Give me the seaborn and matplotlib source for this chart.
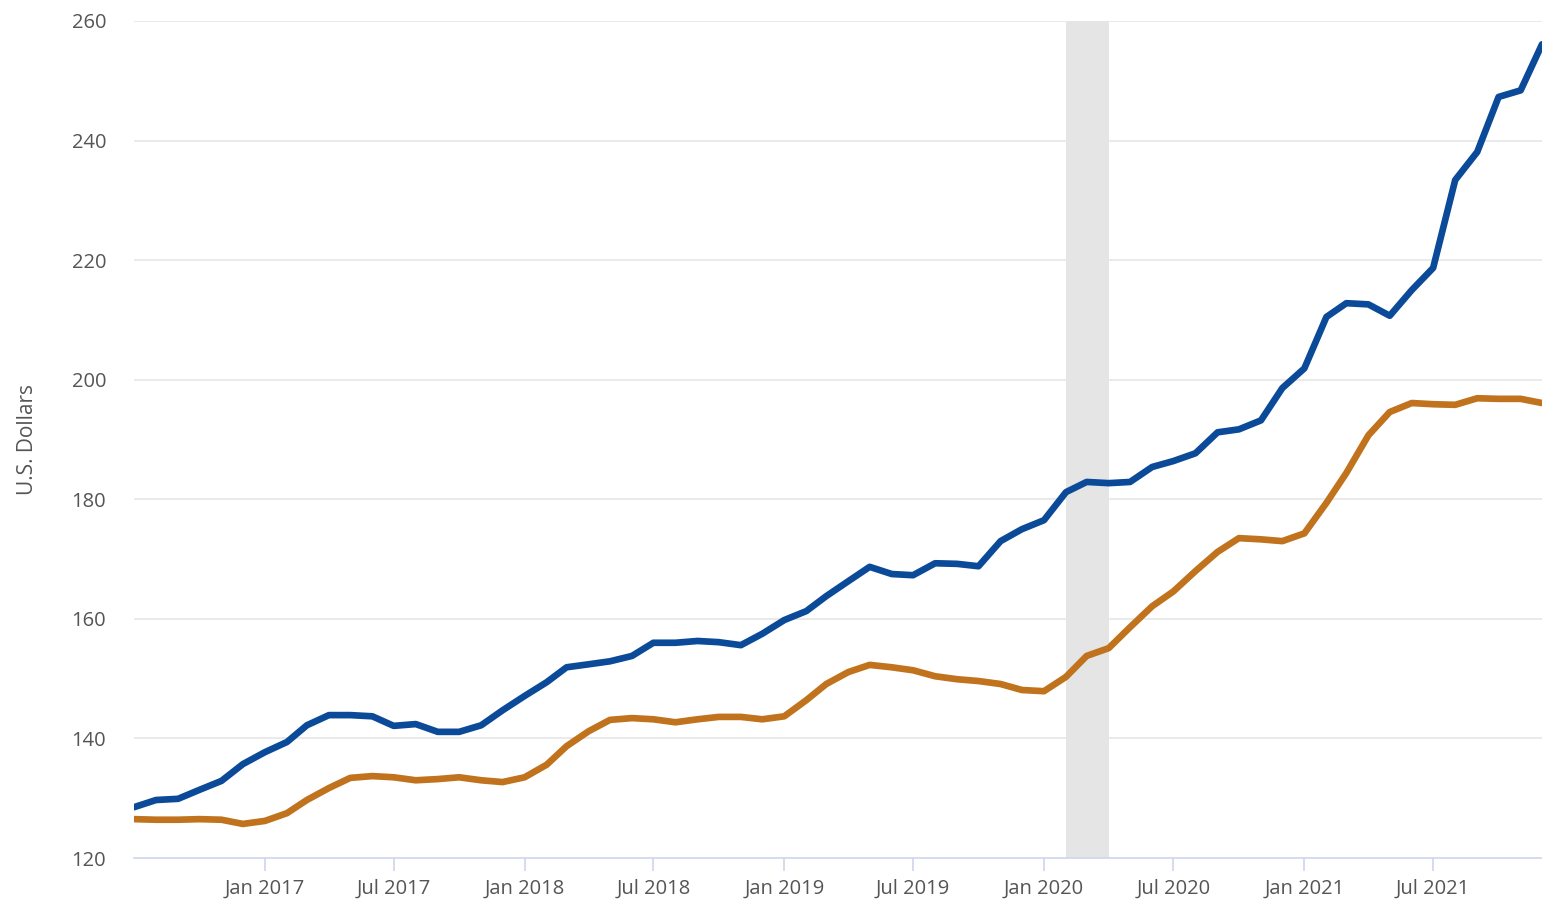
import numpy as np
import pandas as pd
import matplotlib
matplotlib.use("Agg")
import matplotlib.pyplot as plt
import matplotlib.dates as mdates
import seaborn as sns

# monthly values, Jul 2016 .. Dec 2021
months = pd.date_range("2016-07-01", periods=66, freq="MS")

series_blue = [
    128.5, 129.7, 129.9, 131.4, 132.9, 135.7, 137.7, 139.4, 142.2, 143.9,
    143.9, 143.7, 142.1, 142.4, 141.1, 141.1, 142.2, 144.7, 147.1, 149.4,
    151.9, 152.4, 152.9, 153.8, 156.0, 156.0, 156.3, 156.1, 155.6, 157.5,
    159.8, 161.3, 163.8, 166.3, 168.7, 167.5, 167.3, 169.3, 169.2, 168.8,
    173.0, 175.0, 176.5, 181.2, 182.9, 182.7, 182.9, 185.4, 186.4, 187.7,
    191.2, 191.7, 193.2, 198.6, 201.9, 210.5, 212.8, 212.6, 210.7, 215.0,
    218.7, 233.4, 238.1, 247.3, 248.4, 256.1,
]

series_orange = [
    126.5, 126.4, 126.4, 126.5, 126.4, 125.7, 126.2, 127.5, 129.7, 131.7,
    133.4, 133.7, 133.5, 133.0, 133.2, 133.5, 133.0, 132.7, 133.5, 135.6,
    138.7, 141.2, 143.1, 143.4, 143.2, 142.7, 143.2, 143.6, 143.6, 143.2,
    143.7, 146.4, 149.1, 151.1, 152.3, 151.9, 151.4, 150.4, 149.9, 149.6,
    149.1, 148.1, 147.9, 150.3, 153.8, 155.1, 158.6, 162.1, 164.6, 168.0,
    171.2, 173.5, 173.3, 173.0, 174.3, 179.4, 184.4, 190.7, 194.6, 196.1,
    195.9, 195.8, 196.9, 196.8, 196.8, 196.1,
]

recession_start = pd.Timestamp("2020-02-01")
recession_end = pd.Timestamp("2020-04-01")

y_ticks = [120, 140, 160, 180, 200, 220, 240, 260]
x_ticks = pd.date_range("2017-01-01", "2021-07-01", freq="6MS")

df = pd.DataFrame({
    "date": np.concatenate([months, months]),
    "value": series_blue + series_orange,
    "series": ["blue"] * len(months) + ["orange"] * len(months),
})

sns.set_theme(style="white")
plt.rcParams["font.family"] = ["Open Sans", "DejaVu Sans"]

fig = plt.figure(figsize=(15.42, 9), dpi=100)
ax = fig.add_axes([134 / 1542, 42 / 900, 1408 / 1542, 837 / 900])

ax.axvspan(recession_start, recession_end, color="#e5e5e5", lw=0, zorder=0)
for t in y_ticks[1:]:
    ax.axhline(t, color="#e6e6e6", lw=1.2, zorder=0.5)

sns.lineplot(data=df, x="date", y="value", hue="series",
             palette={"blue": "#0b4a98", "orange": "#c0731c"},
             lw=4.8, legend=False, ax=ax, zorder=3)

ax.set_xlim(months[0], months[-1])
ax.set_ylim(120, 260)
ax.set_yticks(y_ticks)
ax.set_xticks(x_ticks)
ax.xaxis.set_major_formatter(mdates.DateFormatter("%b %Y"))

for s in ["top", "right", "left"]:
    ax.spines[s].set_visible(False)
ax.spines["bottom"].set_color("#ccd6eb")
ax.spines["bottom"].set_linewidth(1.2)

ax.tick_params(axis="x", colors="#555555", labelsize=14.5, length=9,
               width=1.2, color="#ccd6eb", pad=6, direction="out", bottom=True)
ax.tick_params(axis="y", colors="#555555", labelsize=14.5, length=0, pad=20)
ax.set_xlabel("")
ax.set_ylabel("U.S. Dollars", color="#555555", fontsize=15, labelpad=24)

fig.savefig("out.png", dpi=100, facecolor="white")
